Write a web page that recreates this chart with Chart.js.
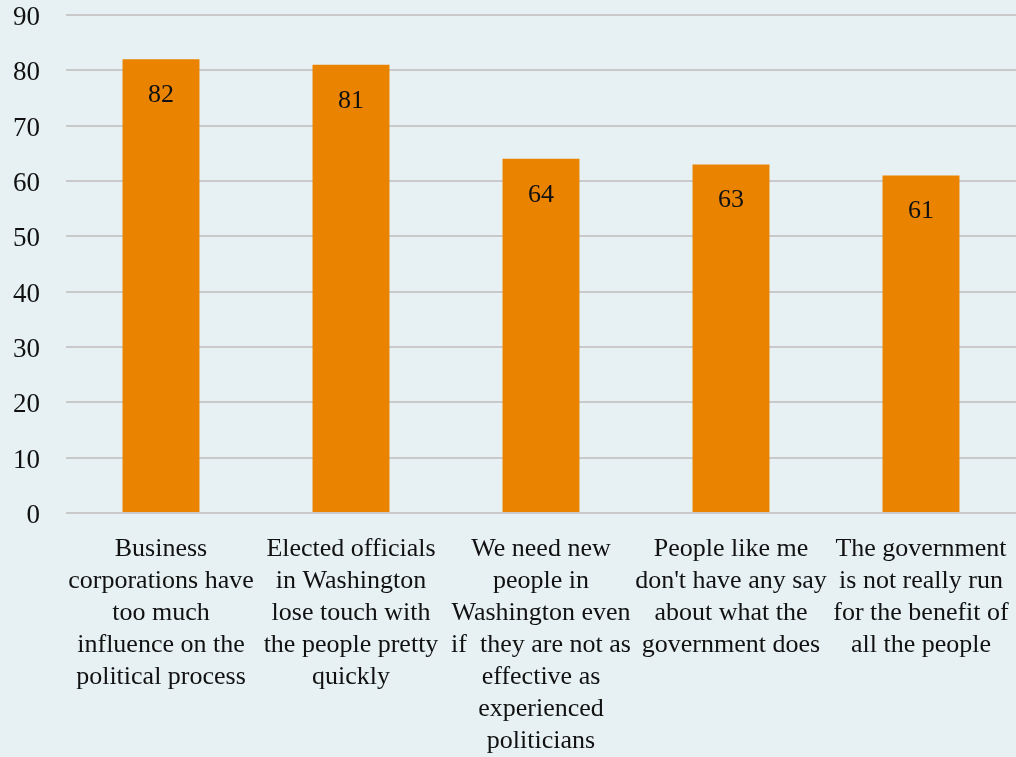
<!DOCTYPE html>
<html>
<head>
<meta charset="utf-8">
<script src="https://cdn.jsdelivr.net/npm/chart.js@4.4.0/dist/chart.umd.min.js"></script>
<style>
  html, body { margin: 0; padding: 0; background: #e7f1f3; }
  #wrap { width: 1016px; height: 757px; }
</style>
</head>
<body>
<div id="wrap"><canvas id="chart"></canvas></div>
<script>
const categories = [
    ['Business', 'corporations have', 'too much', 'influence on the', 'political process'],
    ['Elected officials', 'in Washington', 'lose touch with', 'the people pretty', 'quickly'],
    ['We need new', 'people in', 'Washington even', 'if  they are not as', 'effective as', 'experienced', 'politicians'],
    ['People like me', "don't have any say", 'about what the', 'government does'],
    ['The government', 'is not really run', 'for the benefit of', 'all the people']
];
const values = [82, 81, 64, 63, 61];
const yTicks = [0, 10, 20, 30, 40, 50, 60, 70, 80, 90];

const serif = "'Liberation Serif', 'Times New Roman', 'DejaVu Serif', serif";

// draws the value just inside the top of each bar
const barValues = {
    id: 'barValues',
    afterDatasetsDraw(chart) {
        const ctx = chart.ctx;
        const meta = chart.getDatasetMeta(0);
        ctx.save();
        ctx.font = '26px ' + serif;
        ctx.fillStyle = '#111';
        ctx.textAlign = 'center';
        ctx.textBaseline = 'middle';
        meta.data.forEach((bar, i) => {
            ctx.fillText(String(values[i]), bar.x, bar.y + 36);
        });
        ctx.restore();
    }
};

new Chart(document.getElementById('chart'), {
    type: 'bar',
    data: {
        labels: categories,
        datasets: [{
            data: values,
            backgroundColor: '#e98300',
            borderWidth: 0,
            categoryPercentage: 0.81,
            barPercentage: 0.5
        }]
    },
    options: {
        responsive: true,
        maintainAspectRatio: false,
        animation: false,
        layout: { padding: { top: 15, right: 0, left: 0, bottom: 0 } },
        plugins: {
            legend: { display: false },
            tooltip: { enabled: false }
        },
        scales: {
            x: {
                grid: { display: false, drawTicks: false },
                border: { display: false },
                ticks: {
                    color: '#111',
                    font: { family: serif, size: 26, lineHeight: 1.23 },
                    padding: 20,
                    maxRotation: 0,
                    autoSkip: false
                },
                afterFit(scale) {
                    scale.height = 244;
                    scale.paddingLeft = 0;
                    scale.paddingRight = 0;
                }
            },
            y: {
                min: 0,
                max: 90,
                afterBuildTicks(scale) {
                    scale.ticks = yTicks.map(v => ({ value: v }));
                },
                grid: { color: '#c9c9c9', lineWidth: 2, drawTicks: false },
                border: { display: false },
                ticks: {
                    color: '#111',
                    font: { family: serif, size: 27 },
                    padding: 26,
                    labelOffset: 3
                },
                afterFit(scale) {
                    scale.width = 66;
                    scale.paddingTop = 0;
                    scale.paddingBottom = 0;
                }
            }
        }
    },
    plugins: [barValues]
});
</script>
</body>
</html>
